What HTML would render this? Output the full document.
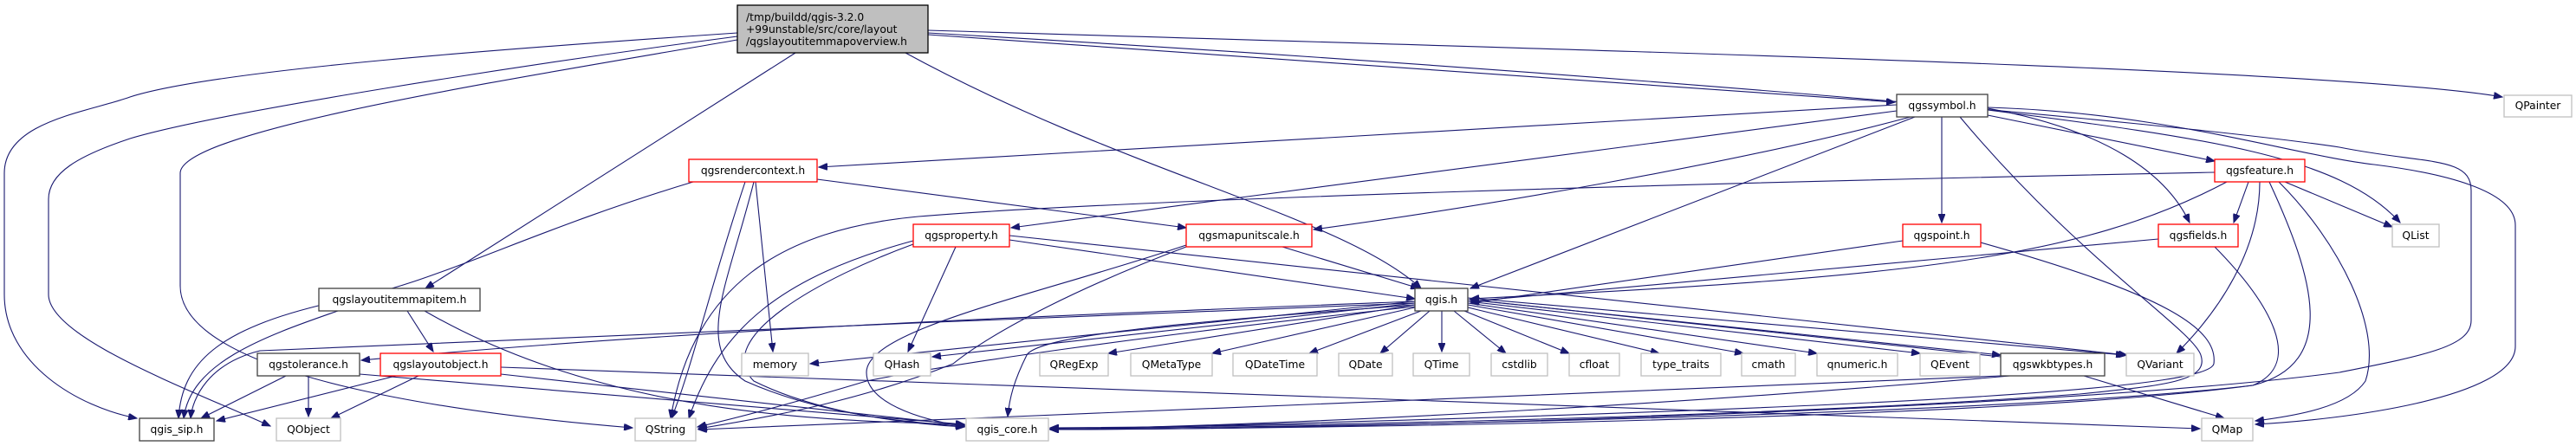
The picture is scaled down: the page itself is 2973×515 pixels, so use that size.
<!DOCTYPE html>
<html><head><meta charset="utf-8"><style>
html,body{margin:0;padding:0;background:#fff;}
svg{display:block;}
text{font-family:"DejaVu Sans","Liberation Sans",sans-serif;font-size:12.3px;fill:#000;}
.e{fill:none;stroke:#191970;stroke-width:1.1;marker-end:url(#a);}
.b{fill:#fff;stroke:#404040;stroke-width:1.3;}
.r{fill:#fff;stroke:#ff0000;stroke-width:1.3;}
.g{fill:#fff;stroke:#bfbfbf;stroke-width:1.3;}
</style></head><body>
<svg width="2973" height="515" viewBox="0 0 2973 515" xmlns="http://www.w3.org/2000/svg">
<defs><marker id="a" markerUnits="userSpaceOnUse" markerWidth="11" markerHeight="8" refX="10" refY="4" orient="auto"><path d="M0,0 L10,4 L0,8 z" fill="#191970" stroke="#191970"/></marker></defs>

<path class="e" d="M851,38 C600,55 250,80 150,112 C100,130 5,140 5,200 L5,340 C5,420 90,470 158,483"/>
<path class="e" d="M851,42 C600,75 250,130 150,160 C90,180 56,200 56,230 L56,340 C56,390 220,450 312,492"/>
<path class="e" d="M851,46 C600,90 208,150 208,200 L208,330 C208,440 560,480 730,494"/>
<path class="e" d="M918,61 L491,333"/>
<path class="e" d="M1045,61 C1300,200 1550,250 1640,333"/>
<path class="e" d="M1071,40 L2187,118"/>
<path class="e" d="M1071,35 C1900,60 2700,80 2888,112"/>
<path class="e" d="M1071,38 C1800,80 2500,140 2700,170 C2800,190 2852,180 2852,220 L2852,370 C2852,400 2800,410 2700,430 C2400,470 1600,496 1212,496"/>
<path class="e" d="M2189,121 L945,193"/>
<path class="e" d="M2189,128 L1167,263"/>
<path class="e" d="M2205,135 C2000,190 1700,240 1516,265"/>
<path class="e" d="M2210,135 L1697,333"/>
<path class="e" d="M2241,135 L2241,257"/>
<path class="e" d="M2294,133 L2556,186"/>
<path class="e" d="M2294,125 C2430,150 2500,200 2527,257"/>
<path class="e" d="M2294,127 C2550,160 2700,180 2770,257"/>
<path class="e" d="M2294,124 C2500,130 2650,180 2740,190 C2820,200 2903,220 2903,260 L2903,400 C2903,460 2700,485 2603,490"/>
<path class="e" d="M2262,135 C2400,300 2530,380 2540,410 C2550,440 2500,445 2400,455 C2000,485 1400,493 1212,494"/>
<path class="e" d="M2570,210 C2400,300 2200,320 1697,345"/>
<path class="e" d="M2595,210 L2578,257"/>
<path class="e" d="M2608,210 C2608,290 2560,360 2512,408"/>
<path class="e" d="M2637,210 L2761,262"/>
<path class="e" d="M2619,210 C2670,320 2700,420 2600,445 C2300,480 1500,494 1212,495"/>
<path class="e" d="M2630,210 C2700,280 2750,380 2730,440 C2710,470 2650,480 2603,486"/>
<path class="e" d="M2556,199 C2000,210 1300,230 1060,250 C900,265 800,330 774,483"/>
<path class="e" d="M2491,276 L1697,348"/>
<path class="e" d="M2556,285 C2620,350 2660,420 2600,445 C2300,485 1500,495 1212,496"/>
<path class="e" d="M2196,278 L1697,350"/>
<path class="e" d="M2286,280 C2500,340 2560,380 2555,420 C2550,445 2300,470 1212,496"/>
<path class="e" d="M800,210 C600,270 500,330 380,350 C250,380 210,420 206,483"/>
<path class="e" d="M872,210 L892,406"/>
<path class="e" d="M860,210 C820,330 800,420 775,483"/>
<path class="e" d="M943,207 L1369,263"/>
<path class="e" d="M870,210 C840,330 800,400 860,440 C950,480 1050,488 1113,492"/>
<path class="e" d="M1103,285 L1048,406"/>
<path class="e" d="M1165,277 L1633,345"/>
<path class="e" d="M1165,272 L2455,410"/>
<path class="e" d="M1054,278 C900,320 830,380 795,483"/>
<path class="e" d="M1054,282 C950,320 820,390 870,440 C950,480 1060,490 1113,493"/>
<path class="e" d="M1480,285 L1638,333"/>
<path class="e" d="M1369,283 C1200,340 1000,380 1000,430 C1000,470 1080,488 1113,492"/>
<path class="e" d="M1369,285 C1250,330 1150,380 1100,420 C1000,460 900,480 806,495"/>
<path class="e" d="M390,359 C300,390 220,420 212,483"/>
<path class="e" d="M470,359 L500,406"/>
<path class="e" d="M490,359 C700,480 950,486 1113,490"/>
<path class="e" d="M330,434 L232,483"/>
<path class="e" d="M356,434 L356,481"/>
<path class="e" d="M415,432 L1113,490"/>
<path class="e" d="M457,434 L250,486"/>
<path class="e" d="M483,434 L382,483"/>
<path class="e" d="M578,432 L1113,491"/>
<path class="e" d="M578,424 L2539,495"/>
<path class="e" d="M1633,348 C1200,365 800,380 417,416"/>
<path class="e" d="M1633,350 C1200,365 700,390 300,405 C240,420 222,460 220,483"/>
<path class="e" d="M1633,348 L935,420"/>
<path class="e" d="M1633,350 L1076,412"/>
<path class="e" d="M1633,352 C1400,370 1200,385 1185,410 C1170,440 1165,460 1163,481"/>
<path class="e" d="M1633,354 C1300,390 1100,420 1000,440 C900,470 840,485 805,493"/>
<path class="e" d="M1633,352 L1279,408"/>
<path class="e" d="M1633,355 L1399,408"/>
<path class="e" d="M1640,359 L1511,408"/>
<path class="e" d="M1650,359 L1593,408"/>
<path class="e" d="M1664,359 L1664,406"/>
<path class="e" d="M1678,359 L1738,408"/>
<path class="e" d="M1690,359 L1811,408"/>
<path class="e" d="M1694,355 L1915,408"/>
<path class="e" d="M1694,352 L2012,408"/>
<path class="e" d="M1694,350 L2097,408"/>
<path class="e" d="M1694,348 L2216,408"/>
<path class="e" d="M1694,346 L2309,410"/>
<path class="e" d="M1694,344 L2452,410"/>
<path class="e" d="M2309,412 L1697,346"/>
<path class="e" d="M2309,434 C1800,455 1200,480 806,496"/>
<path class="e" d="M2320,434 C1900,470 1500,490 1212,496"/>
<path class="e" d="M2405,434 L2567,483"/>

<rect x="851" y="6" width="220" height="55" fill="#bfbfbf" stroke="#000" stroke-width="1.3"/>
<text x="861" y="24">/tmp/buildd/qgis-3.2.0</text>
<text x="861" y="38">+99unstable/src/core/layout</text>
<text x="861" y="52">/qgslayoutitemmapoverview.h</text>

<rect class="b" x="2189" y="109" width="105" height="26"/><text x="2241.5" y="126" text-anchor="middle">qgssymbol.h</text>
<rect class="g" x="2890" y="110" width="78" height="25"/><text x="2929" y="126" text-anchor="middle">QPainter</text>
<rect class="r" x="795" y="184" width="148" height="26"/><text x="869" y="201" text-anchor="middle">qgsrendercontext.h</text>
<rect class="r" x="2556" y="184" width="104" height="26"/><text x="2608" y="201" text-anchor="middle">qgsfeature.h</text>
<rect class="r" x="1054" y="259" width="111" height="26"/><text x="1109.5" y="276" text-anchor="middle">qgsproperty.h</text>
<rect class="r" x="1369" y="259" width="145" height="26"/><text x="1441.5" y="276" text-anchor="middle">qgsmapunitscale.h</text>
<rect class="r" x="2196" y="259" width="90" height="26"/><text x="2241" y="276" text-anchor="middle">qgspoint.h</text>
<rect class="r" x="2491" y="259" width="92" height="26"/><text x="2537" y="276" text-anchor="middle">qgsfields.h</text>
<rect class="g" x="2761" y="259" width="54" height="26"/><text x="2788" y="276" text-anchor="middle">QList</text>
<rect class="b" x="368" y="333" width="186" height="26"/><text x="461" y="350" text-anchor="middle">qgslayoutitemmapitem.h</text>
<rect class="b" x="1633" y="333" width="61" height="26"/><text x="1663.5" y="350" text-anchor="middle">qgis.h</text>

<rect class="b" x="297" y="408" width="118" height="26"/><text x="356" y="425" text-anchor="middle">qgstolerance.h</text>
<rect class="r" x="439" y="408" width="139" height="26"/><text x="508.5" y="425" text-anchor="middle">qgslayoutobject.h</text>
<rect class="g" x="856" y="408" width="77" height="26"/><text x="894.5" y="425" text-anchor="middle">memory</text>
<rect class="g" x="1008" y="408" width="66" height="26"/><text x="1041" y="425" text-anchor="middle">QHash</text>
<rect class="g" x="1200" y="408" width="79" height="26"/><text x="1239.5" y="425" text-anchor="middle">QRegExp</text>
<rect class="g" x="1305" y="408" width="94" height="26"/><text x="1352" y="425" text-anchor="middle">QMetaType</text>
<rect class="g" x="1423" y="408" width="97" height="26"/><text x="1471.5" y="425" text-anchor="middle">QDateTime</text>
<rect class="g" x="1545" y="408" width="62" height="26"/><text x="1576" y="425" text-anchor="middle">QDate</text>
<rect class="g" x="1631" y="408" width="65" height="26"/><text x="1663.5" y="425" text-anchor="middle">QTime</text>
<rect class="g" x="1721" y="408" width="65" height="26"/><text x="1753.5" y="425" text-anchor="middle">cstdlib</text>
<rect class="g" x="1811" y="408" width="58" height="26"/><text x="1840" y="425" text-anchor="middle">cfloat</text>
<rect class="g" x="1894" y="408" width="92" height="26"/><text x="1940" y="425" text-anchor="middle">type_traits</text>
<rect class="g" x="2010" y="408" width="62" height="26"/><text x="2041" y="425" text-anchor="middle">cmath</text>
<rect class="g" x="2097" y="408" width="93" height="26"/><text x="2143.5" y="425" text-anchor="middle">qnumeric.h</text>
<rect class="g" x="2216" y="408" width="69" height="26"/><text x="2250.5" y="425" text-anchor="middle">QEvent</text>
<rect class="b" x="2309" y="408" width="120" height="26"/><text x="2369" y="425" text-anchor="middle">qgswkbtypes.h</text>
<rect class="g" x="2454" y="408" width="78" height="26"/><text x="2493" y="425" text-anchor="middle">QVariant</text>

<rect class="b" x="161" y="483" width="86" height="26"/><text x="204" y="500" text-anchor="middle">qgis_sip.h</text>
<rect class="g" x="319" y="483" width="74" height="26"/><text x="356" y="500" text-anchor="middle">QObject</text>
<rect class="g" x="733" y="483" width="70" height="26"/><text x="768" y="500" text-anchor="middle">QString</text>
<rect class="g" x="1115" y="483" width="95" height="26"/><text x="1162.5" y="500" text-anchor="middle">qgis_core.h</text>
<rect class="g" x="2541" y="483" width="59" height="26"/><text x="2570.5" y="500" text-anchor="middle">QMap</text>
</svg>
</body></html>
